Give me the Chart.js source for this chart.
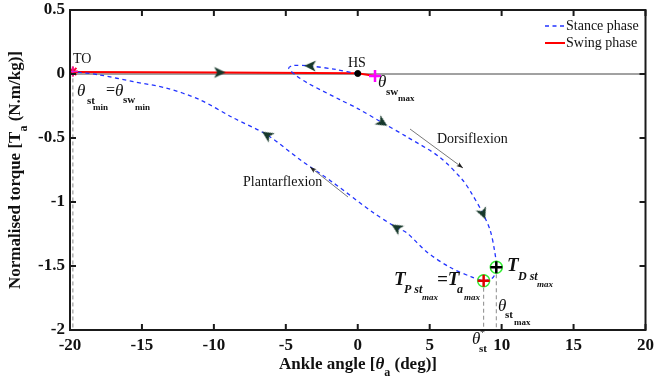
<!DOCTYPE html>
<html>
<head>
<meta charset="utf-8">
<script src="https://cdn.jsdelivr.net/npm/chart.js@4.4.1/dist/chart.umd.min.js"></script>
<style>html,body{margin:0;padding:0;background:#fff}</style>
</head>
<body>
<canvas id="chart" width="654" height="379"></canvas>
<script>
// axis ticks
const xTicks = [-20, -15, -10, -5, 0, 5, 10, 15, 20];
const yTicks = [0.5, 0, -0.5, -1, -1.5, -2];

// stance phase loop, HS -> dorsiflexion -> plantarflexion -> TO
const stanceX = [0, -1.5, -3.3, -4.5, -4.8, -4.3, -3.5, -1.25, 0, 1.7, 3.4, 5.7, 7.3, 7.9, 8.7, 9.2, 9.5, 9.63, 9.4, 8.75, 7.9, 6.4, 4.8, 3.4, 2.7, 1.04, -1.7, -4.0, -6.3, -8.7, -11, -13.3, -15.6, -17.9, -19.8];
const stanceY = [0, 0.035, 0.062, 0.066, 0.045, -0.01, -0.07, -0.2, -0.27, -0.38, -0.49, -0.65, -0.83, -0.93, -1.09, -1.22, -1.375, -1.51, -1.59, -1.615, -1.585, -1.51, -1.39, -1.24, -1.2, -1.08, -0.85, -0.67, -0.476, -0.34, -0.2, -0.11, -0.06, -0.008, 0.02];

// swing phase, TO -> HS -> theta_sw_max
const swingX = [-19.8, -9.6, 0, 1.2];
const swingY = [0.015, 0.012, 0.005, -0.015];

// direction arrows on the curves
const arrowX = [-9.6, -3.3, 1.7, 8.7, 2.7, -6.3];
const arrowY = [0.012, 0.063, -0.38, -1.09, -1.2, -0.476];
const arrowRot = [90, 272, 122, 158, 302, 303];

// key points
const toPoint = {x: -19.8, y: 0.02};
const hsPoint = {x: 0, y: 0.004};
const swMaxPoint = {x: 1.2, y: -0.015};
const tdPoint = {x: 9.63, y: -1.51};
const tpPoint = {x: 8.75, y: -1.615};

const serif = "'Liberation Serif', 'Times New Roman', serif";

function pts(xs, ys) {
  return xs.map((x, i) => ({x: x, y: ys[i]}));
}

// barbed arrowhead pointing up, rotated per point by chart.js
function makeArrow() {
  const c = document.createElement('canvas');
  c.width = 14; c.height = 14;
  const g = c.getContext('2d');
  g.fillStyle = '#16382a';
  g.beginPath();
  g.moveTo(7, 1);
  g.lineTo(12.5, 12.5);
  g.lineTo(7, 9.5);
  g.lineTo(1.5, 12.5);
  g.closePath();
  g.fill();
  return c;
}

function seq(ctx, x, parts) {
  // draw text pieces left to right, each with its own font and centre y
  ctx.textAlign = 'left';
  ctx.textBaseline = 'middle';
  for (const p of parts) {
    ctx.font = p.f;
    ctx.fillText(p.t, p.x !== undefined ? p.x : x, p.y);
    x = (p.x !== undefined ? p.x : x) + ctx.measureText(p.t).width;
  }
}

function arrowLine(ctx, x1, y1, x2, y2) {
  ctx.save();
  ctx.strokeStyle = '#555';
  ctx.fillStyle = '#222';
  ctx.lineWidth = 0.8;
  ctx.beginPath();
  ctx.moveTo(x1, y1);
  ctx.lineTo(x2, y2);
  ctx.stroke();
  const a = Math.atan2(y2 - y1, x2 - x1);
  ctx.beginPath();
  ctx.moveTo(x2, y2);
  ctx.lineTo(x2 - 7 * Math.cos(a - 0.35), y2 - 7 * Math.sin(a - 0.35));
  ctx.lineTo(x2 - 5 * Math.cos(a), y2 - 5 * Math.sin(a));
  ctx.lineTo(x2 - 7 * Math.cos(a + 0.35), y2 - 7 * Math.sin(a + 0.35));
  ctx.closePath();
  ctx.fill();
  ctx.restore();
}

const decor = {
  id: 'decor',
  afterDraw(chart) {
    const ctx = chart.ctx;
    const a = chart.chartArea;
    const xs = chart.scales.x, ys = chart.scales.y;
    ctx.save();

    // frame and inward ticks
    ctx.strokeStyle = '#1a1a1a';
    ctx.lineWidth = 2;
    ctx.strokeRect(a.left, a.top, a.right - a.left, a.bottom - a.top);
    ctx.beginPath();
    for (const v of xTicks) {
      const px = xs.getPixelForValue(v);
      ctx.moveTo(px, a.bottom); ctx.lineTo(px, a.bottom - 6);
      ctx.moveTo(px, a.top); ctx.lineTo(px, a.top + 6);
    }
    for (const v of yTicks) {
      const py = ys.getPixelForValue(v);
      ctx.moveTo(a.left, py); ctx.lineTo(a.left + 6, py);
      ctx.moveTo(a.right, py); ctx.lineTo(a.right - 6, py);
    }
    ctx.stroke();

    // legend
    const ds = chart.data.datasets;
    const legendItems = [ds.find(d => d.label === 'Stance phase'), ds.find(d => d.label === 'Swing phase')];
    legendItems.forEach((d, i) => {
      const y = 26 + i * 17;
      ctx.beginPath();
      ctx.strokeStyle = d.borderColor;
      ctx.lineWidth = d.borderWidth;
      ctx.setLineDash(d.borderDash || []);
      ctx.moveTo(545, y); ctx.lineTo(565, y);
      ctx.stroke();
      ctx.setLineDash([]);
      ctx.fillStyle = '#111';
      seq(ctx, 566, [{t: d.label, f: '14px ' + serif, y: y}]);
    });

    ctx.fillStyle = '#111';
    // axis titles
    const bold17 = 'bold 17px ' + serif;
    const xParts = [
      {t: 'Ankle angle [', f: bold17, y: 365},
      {t: '\u03b8', f: 'italic bold 17px ' + serif, y: 365},
      {t: 'a', f: 'bold 12px ' + serif, y: 373},
      {t: ' (deg)]', f: bold17, y: 365}
    ];
    let w = 0;
    for (const p of xParts) { ctx.font = p.f; w += ctx.measureText(p.t).width; }
    seq(ctx, 358 - w / 2, xParts);

    ctx.save();
    ctx.translate(16, 170);
    ctx.rotate(-Math.PI / 2);
    const yParts = [
      {t: 'Normalised torque [T', f: bold17, y: 0},
      {t: 'a', f: 'bold 12px ' + serif, y: 8},
      {t: ' (N.m/kg)]', f: bold17, y: 0}
    ];
    w = 0;
    for (const p of yParts) { ctx.font = p.f; w += ctx.measureText(p.t).width; }
    seq(ctx, -w / 2, yParts);
    ctx.restore();

    // annotations
    const th = 'italic 17px ' + serif;
    const sub = 'bold 11px ' + serif;
    const sub2 = 'bold 9px ' + serif;
    seq(ctx, 73, [{t: 'TO', f: '14px ' + serif, y: 59}]);
    seq(ctx, 348, [{t: 'HS', f: '14px ' + serif, y: 63}]);
    seq(ctx, 0, [
      {t: '\u03b8', f: th, y: 92, x: 77},
      {t: 'st', f: sub, y: 101, x: 87},
      {t: 'min', f: sub2, y: 108, x: 93},
      {t: '=', f: '16px ' + serif, y: 91, x: 106},
      {t: '\u03b8', f: th, y: 92, x: 115},
      {t: 'sw', f: sub, y: 100, x: 123},
      {t: 'min', f: sub2, y: 108, x: 135}
    ]);
    seq(ctx, 0, [
      {t: '\u03b8', f: th, y: 83, x: 378},
      {t: 'sw', f: sub, y: 92, x: 386},
      {t: 'max', f: sub2, y: 99, x: 398}
    ]);
    const tb = 'italic bold 19px ' + serif;
    const ts = 'italic bold 12px ' + serif;
    const tm = 'italic bold 9px ' + serif;
    seq(ctx, 0, [
      {t: 'T', f: tb, y: 266, x: 507},
      {t: 'D st', f: ts, y: 277, x: 518},
      {t: 'max', f: tm, y: 285, x: 537}
    ]);
    seq(ctx, 0, [
      {t: 'T', f: tb, y: 280, x: 394},
      {t: 'P st', f: ts, y: 290, x: 404},
      {t: 'max', f: tm, y: 298, x: 422},
      {t: '=T', f: tb, y: 280, x: 437},
      {t: 'a', f: ts, y: 290, x: 457},
      {t: 'max', f: tm, y: 298, x: 464}
    ]);
    seq(ctx, 0, [
      {t: '\u03b8', f: th, y: 307, x: 498},
      {t: 'st', f: sub, y: 315, x: 505},
      {t: 'max', f: sub2, y: 323, x: 514}
    ]);
    seq(ctx, 0, [
      {t: '\u03b8', f: th, y: 340, x: 472},
      {t: '*', f: '10px ' + serif, y: 333, x: 480},
      {t: 'st', f: sub, y: 349, x: 479}
    ]);

    seq(ctx, 437, [{t: 'Dorsiflexion', f: '14px ' + serif, y: 139}]);
    seq(ctx, 243, [{t: 'Plantarflexion', f: '14px ' + serif, y: 182}]);
    arrowLine(ctx, 410, 129, 463, 168);
    arrowLine(ctx, 348, 197, 310, 167);

    ctx.restore();
  }
};

const guideStyle = {borderColor: '#8a8a8a', borderWidth: 1, borderDash: [4, 3], pointRadius: 0, showLine: true, order: 9};
const arrowImg = makeArrow();

new Chart(document.getElementById('chart').getContext('2d'), {
  type: 'scatter',
  data: {
    datasets: [
      {label: 'TD', data: [tdPoint, tdPoint], pointStyle: ['circle', 'cross'], pointRadius: [6, 6], borderColor: ['#33ee33', '#000'], backgroundColor: 'rgba(0,0,0,0)', pointBorderWidth: [1.5, 2.5], order: 0},
      {label: 'TP', data: [tpPoint, tpPoint], pointStyle: ['circle', 'cross'], pointRadius: [6, 6], borderColor: ['#33ee33', '#e00000'], backgroundColor: 'rgba(0,0,0,0)', pointBorderWidth: [1.5, 2.5], order: 0},
      {label: 'swmax', data: [swMaxPoint], pointStyle: 'cross', pointRadius: 6, borderColor: '#ff00ff', pointBorderWidth: 2.5, order: 0},
      {label: 'HS', data: [hsPoint], pointStyle: 'circle', pointRadius: 3, borderColor: '#000', backgroundColor: '#000', order: 0},
      {label: 'TO', data: [toPoint, toPoint], pointStyle: ['star', 'cross'], pointRadius: [5, 5], borderColor: ['#ff0033', '#dd22dd'], pointBorderWidth: [2, 1], order: 0},
      {label: 'arrows', data: pts(arrowX, arrowY), pointStyle: arrowImg, pointRadius: 7, rotation: arrowRot, pointRotation: arrowRot, order: 1},
      {label: 'Stance phase', data: pts(stanceX, stanceY), showLine: true, tension: 0.3, borderColor: '#2233ff', borderWidth: 1.3, borderDash: [4, 3.5], pointRadius: 0, order: 3},
      {label: 'Swing phase', data: pts(swingX, swingY), showLine: true, tension: 0, borderColor: '#ff0000', borderWidth: 2, pointRadius: 0, order: 4},
      {label: 'zero', data: [{x: -20, y: 0}, {x: 20, y: 0}], showLine: true, borderColor: '#444', borderWidth: 1, pointRadius: 0, order: 8},
      Object.assign({label: 'g1', data: [{x: toPoint.x, y: toPoint.y}, {x: toPoint.x, y: -2}]}, guideStyle),
      Object.assign({label: 'g2', data: [{x: tpPoint.x, y: tpPoint.y}, {x: tpPoint.x, y: -2}]}, guideStyle),
      Object.assign({label: 'g3', data: [{x: tdPoint.x, y: tdPoint.y}, {x: tdPoint.x, y: -2}]}, guideStyle)
    ]
  },
  options: {
    responsive: false,
    animation: false,
    layout: {padding: {left: 0, right: 8, top: 10, bottom: 0}},
    plugins: {legend: {display: false}, tooltip: {enabled: false}},
    scales: {
      x: {
        type: 'linear', min: -20, max: 20,
        grid: {display: false, drawTicks: false},
        border: {display: false},
        afterBuildTicks: s => { s.ticks = xTicks.map(v => ({value: v})); },
        afterFit: s => { s.height = 49; s.paddingLeft = 0; s.paddingRight = 0; },
        ticks: {autoSkip: false, maxRotation: 0, padding: 5, color: '#111', font: {family: serif, size: 17, weight: 'bold'}, callback: v => String(v)}
      },
      y: {
        type: 'linear', min: -2, max: 0.5,
        grid: {display: false, drawTicks: false},
        border: {display: false},
        afterBuildTicks: s => { s.ticks = yTicks.map(v => ({value: v})); },
        afterFit: s => { s.width = 70; s.paddingTop = 0; s.paddingBottom = 0; },
        ticks: {autoSkip: false, padding: 5, color: '#111', font: {family: serif, size: 17, weight: 'bold'}, callback: v => String(v)}
      }
    }
  },
  plugins: [decor]
});
</script>
</body>
</html>
